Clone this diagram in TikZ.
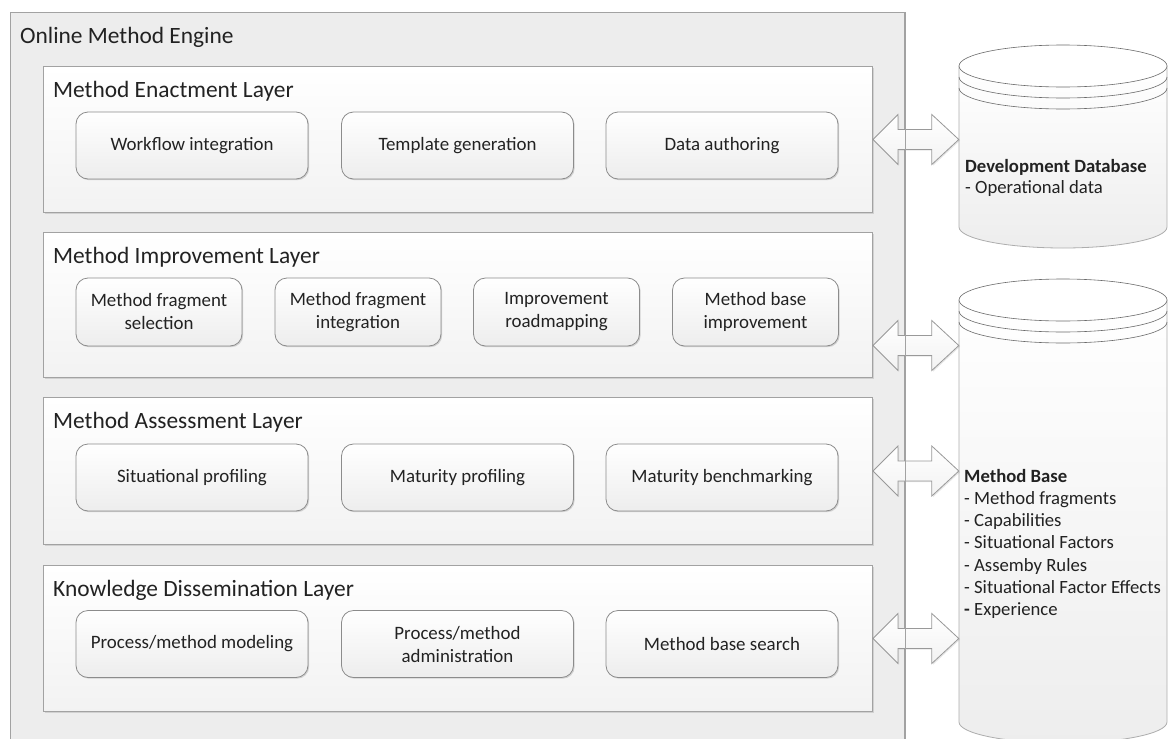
\documentclass[tikz,border=0pt]{standalone}
\usepackage{fontspec}
\setmainfont{Carlito}
\usetikzlibrary{shadows,calc}
\definecolor{ink}{HTML}{222222}
\definecolor{frame}{HTML}{A2A2A2}
\definecolor{taskline}{HTML}{8C8C8C}
\definecolor{rim}{HTML}{6A6A6A}
% lower half of a store's elliptic rim, level #1 (x from 959 to 1167)
\newcommand\halfrim[1]{(959,#1) .. controls (959,#1+11.6) and (1005.6,#1+21) .. (1063,#1+21)
  .. controls (1120.4,#1+21) and (1167,#1+11.6) .. (1167,#1)}
\begin{document}
\begin{tikzpicture}[x=1pt,y=-1pt,
  engine/.style={draw=frame, fill=black!7, line width=1pt, inner sep=0pt},
  enginedge/.style={draw=frame, line width=1pt},
  layer/.style={draw=frame, line width=1pt, top color=white, bottom color=black!5,
    inner sep=0pt, drop shadow={shadow xshift=1.2pt, shadow yshift=-1.2pt, opacity=0.25}},
  title/.style={font=\fontsize{23.4}{27}\selectfont, text=ink, inner sep=0pt, anchor=base west},
  task/.style={draw=taskline, line width=0.8pt, rounded corners=12pt, top color=white,
    bottom color=black!7, align=center, text=ink, inner sep=0pt,
    font=\fontsize{18.9}{23}\selectfont,
    drop shadow={shadow xshift=1.2pt, shadow yshift=-1.2pt, opacity=0.3}},
  wide/.style={task, minimum width=232pt, minimum height=67pt},
  narrow/.style={task, minimum width=166pt, minimum height=68pt},
  dbl/.style={draw=black!40, line width=0.8pt, top color=white, bottom color=black!5,
    drop shadow={shadow xshift=1.2pt, shadow yshift=-1.2pt, opacity=0.2}},
  cylbody/.style={draw=black!32, line width=0.8pt, top color=white, bottom color=black!7},
  cyltop/.style={draw=rim, line width=0.6pt, fill=white},
  cylrim/.style={draw=rim, line width=0.6pt},
  dbtext/.style={font=\fontsize{18.7}{22}\selectfont, text=ink, inner sep=0pt, anchor=base west},
  holder/.style={draw=none, inner sep=0pt}
]
\clip (0,0) rectangle (1168,739);

% outer engine frame
\node[engine, minimum width=894pt, minimum height=740pt, anchor=north west] (ome) at (10,12) {};
\node[title] (omeT) at ([xshift=10pt,yshift=-31pt]ome.north west) {Online Method Engine};

% layers
\node[layer, minimum width=829pt, minimum height=146pt, anchor=north west] (L1) at (43,66) {};
\node[layer, minimum width=829pt, minimum height=145pt, anchor=north west] (L2) at (43,232) {};
\node[layer, minimum width=829pt, minimum height=147pt, anchor=north west] (L3) at (43,397) {};
\node[layer, minimum width=829pt, minimum height=146pt, anchor=north west] (L4) at (43,565) {};

\node[title] (L1T) at ([xshift=10pt,yshift=-31pt]L1.north west) {Method Enactment Layer};
\node[title] (L2T) at ([xshift=10pt,yshift=-31pt]L2.north west) {Method Improvement Layer};
\node[title] (L3T) at ([xshift=10pt,yshift=-31pt]L3.north west) {Method Assessment Layer};
\node[title] (L4T) at ([xshift=10pt,yshift=-31pt]L4.north west) {Knowledge Dissemination Layer};

% method enactment
\node[wide] (wf)  at (192,145.5)   {Workflow integration};
\node[wide] (tg)  at (457.5,145.5) {Template generation};
\node[wide] (da)  at (722,145.5)   {Data authoring};

% method improvement
\node[narrow] (mfs) at (159,312)   {Method fragment\\selection};
\node[narrow] (mfi) at (358,312)   {Method fragment\\integration};
\node[narrow] (ir)  at (556.5,312) {Improvement\\roadmapping};
\node[narrow] (mbi) at (755.5,312) {Method base\\improvement};

% method assessment
\node[wide] (sp)  at (192,477.5)   {Situational profiling};
\node[wide] (mp)  at (457.5,477.5) {Maturity profiling};
\node[wide] (mbm) at (722,477.5)   {Maturity benchmarking};

% knowledge dissemination
\node[wide] (pmm) at (192,644)     {Process/method modeling};
\node[wide] (pma) at (457.5,644)   {Process/method\\administration};
\node[wide] (mbs) at (722,644)     {Method base search};

% development database store
\path[cylbody] (959,66) -- \halfrim{227} -- (1167,66) -- cycle;
\draw[cyltop] (1063,66) ellipse[x radius=104pt, y radius=21pt];
\draw[cylrim] \halfrim{77};
\draw[cylrim] \halfrim{88};
\node[holder, minimum width=208pt, minimum height=161pt] (devdb) at (1063,146.5) {};
\node[dbtext] (devdbA) at (965,172) {\textbf{Development Database}};
\node[dbtext] (devdbB) at (965,193) {- Operational data};

% method base store
\path[cylbody] (959,300) -- \halfrim{722} -- (1167,300) -- cycle;
\draw[cyltop] (1063,300) ellipse[x radius=104pt, y radius=21pt];
\draw[cylrim] \halfrim{311};
\draw[cylrim] \halfrim{322};
\node[holder, minimum width=208pt, minimum height=422pt] (mbase) at (1063,511) {};
\node[dbtext] (mbA) at (964,482)   {\textbf{Method Base}};
\node[dbtext] (mbB) at (964,504.3) {- Method fragments};
\node[dbtext] (mbC) at (964,526.6) {- Capabilities};
\node[dbtext] (mbD) at (964,548.9) {- Situational Factors};
\node[dbtext] (mbE) at (964,571.2) {- Assemby Rules};
\node[dbtext] (mbF) at (964,593.5) {- Situational Factor Effects};
\node[dbtext] (mbG) at (964,615.8) {\textbf{-} Experience};

% double-headed block arrows between layers and stores
\def\dblpath{(\x1,\y1) -- (\x1+25pt,\y1+25pt) -- (\x1+25pt,\y1+10pt) -- (\x2-27pt,\y1+10pt)
  -- (\x2-27pt,\y1+25pt) -- (\x2,\y1) -- (\x2-27pt,\y1-25pt) -- (\x2-27pt,\y1-10pt)
  -- (\x1+25pt,\y1-10pt) -- (\x1+25pt,\y1-25pt) -- cycle}
\path[dbl] let \p1=(L1.east), \p2=(devdb.west) in \dblpath;
\path[dbl] let \p1=([yshift=-40.5pt]L2.east), \p2=(mbase.west) in \dblpath;
\path[dbl] let \p1=(L3.east), \p2=(mbase.west) in \dblpath;
\path[dbl] let \p1=(L4.east), \p2=(mbase.west) in \dblpath;

% engine edge shows through the arrow shafts
\draw[enginedge] (ome.north east) -- (ome.south east);
\end{tikzpicture}
\end{document}
